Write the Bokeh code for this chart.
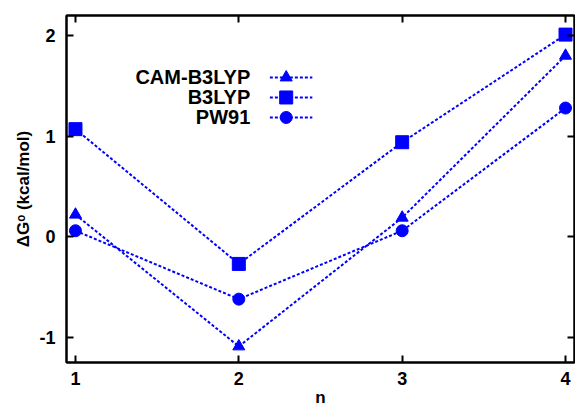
from bokeh.plotting import figure
from bokeh.models import LinearAxis, FixedTicker, Range1d
from bokeh.core.properties import value
from bokeh.embed import file_html
from bokeh.resources import INLINE

n = [1, 2, 3, 4]
cam_b3lyp = [0.22, -1.09, 0.19, 1.80]
b3lyp = [1.07, -0.27, 0.94, 2.01]
pw91 = [0.06, -0.62, 0.06, 1.28]
series_names = ["CAM-B3LYP", "B3LYP", "PW91"]
x_ticks = [1, 2, 3, 4]
y_ticks = [-1, 0, 1, 2]
y_tick_labels = {-1: "-1", 0: "0", 1: "1", 2: "2"}

BLUE = "#0000ff"
FONT = "Liberation Sans"
DASH = "3 2"

p = figure(output_backend="svg", toolbar_location=None,
           frame_width=508, frame_height=347,
           x_range=Range1d(0.945, 4.055), y_range=Range1d(-1.25, 2.2),
           min_border_left=66, min_border_top=15, min_border_bottom=40, min_border_right=1,
           x_axis_label="n", y_axis_label="ΔGᵒ (kcal/mol)")
p.grid.visible = False
p.outline_line_color = "black"
p.outline_line_width = 2
p.background_fill_color = "white"
p.border_fill_color = "white"

for ax in p.axis:
    ax.axis_line_width = 2
    ax.major_tick_line_width = 2
    ax.major_tick_in = 7
    ax.major_tick_out = 0
    ax.minor_tick_line_color = None
    ax.major_label_text_font = FONT
    ax.major_label_text_font_style = "bold"
    ax.major_label_text_font_size = "18px"
    ax.major_label_text_color = "black"
    ax.axis_label_text_font = FONT
    ax.axis_label_text_font_style = "bold"
    ax.axis_label_text_font_size = "17px"
    ax.axis_label_text_color = "black"
    ax.major_label_standoff = 11
p.xaxis.ticker = FixedTicker(ticks=x_ticks)
p.yaxis.ticker = FixedTicker(ticks=y_ticks)
p.yaxis.major_label_overrides = y_tick_labels
p.xaxis.major_label_standoff = 9
p.xaxis.axis_label_standoff = 0
p.yaxis.axis_label_standoff = 3

# mirrored ticks (no labels)
for loc, ticks in (("right", y_ticks), ("above", x_ticks)):
    a = LinearAxis(ticker=FixedTicker(ticks=ticks),
                   major_label_overrides={t: "" for t in ticks},
                   major_label_text_font_size="0px",
                   major_tick_in=7, major_tick_out=0, major_tick_line_width=2,
                   minor_tick_line_color=None, axis_line_width=2, major_label_standoff=0)
    p.add_layout(a, loc)

markers = ["triangle", "square", "circle"]
sizes = [12, 13, 12]
for ys, m, s in zip([cam_b3lyp, b3lyp, pw91], markers, sizes):
    p.line(n, ys, line_color=BLUE, line_width=2, line_dash=DASH)
    p.scatter(n, ys, marker=m, size=s, color=BLUE)

# legend (label left, sample right), positions in data space
leg_text_x = 2.07
leg_x0, leg_x1, leg_xm = 2.19, 2.45, 2.29
leg_y = [1.584, 1.385, 1.186]
p.text(x=[leg_text_x] * 3, y=leg_y, text=series_names, text_align="right",
       text_baseline="middle", text_font=value(FONT), text_font_style="bold",
       text_font_size="20px", text_color="black")
for yy, m, s in zip(leg_y, markers, sizes):
    p.line([leg_x0, leg_x1], [yy, yy], line_color=BLUE, line_width=2, line_dash=DASH)
    p.scatter([leg_xm], [yy], marker=m, size=s, color=BLUE)

open("out.html", "w").write(file_html(p, INLINE))
